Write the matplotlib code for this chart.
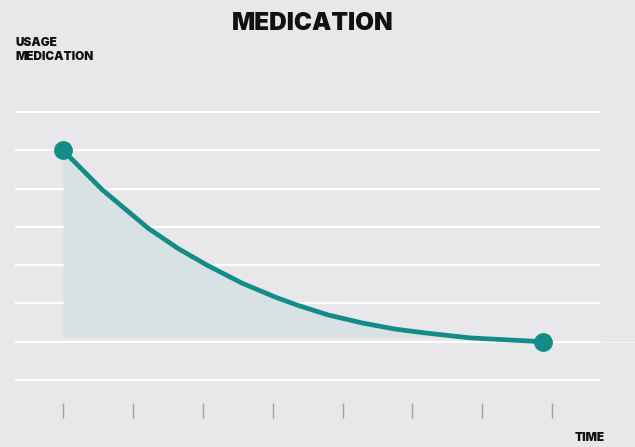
import numpy as np
import matplotlib
matplotlib.use("Agg")
import matplotlib.pyplot as plt

# values (time step, usage level)
time_pts = [0.0, 0.56, 1.22, 1.65, 2.06, 2.56, 3.03, 3.36, 3.79, 4.28, 4.75, 5.18, 5.82, 6.54, 6.87]
usage_pts = [6.0, 4.97, 3.96, 3.43, 3.00, 2.53, 2.17, 1.95, 1.70, 1.49, 1.33, 1.23, 1.10, 1.03, 1.0]
grid_levels = [0, 1, 2, 3, 4, 5, 6, 7]
time_ticks = [0, 1, 2, 3, 4, 5, 6, 7]
fill_base = 1.12

BG = "#e8e8ea"
TEAL = "#138c88"
FILL = "#d8e1e3"
INK = "#111111"

W, H = 635, 447
fig = plt.figure(figsize=(W / 100, H / 100), dpi=100, facecolor=BG)
ax = fig.add_axes([0, 0, 1, 1], facecolor=BG)
ax.set_xlim(-0.901, 8.183)
ax.set_ylim(-1.749, 9.922)
ax.axis("off")

# grid lines
ax.hlines(grid_levels, -0.687, 7.68, color="white", lw=1.5, zorder=1)
ax.hlines(1, 7.68, 8.2, color="white", lw=1.0, alpha=0.6, zorder=1)

# shaded area under the curve
ax.fill_between(time_pts, usage_pts, fill_base, color=FILL, lw=0, zorder=2)

# curve + end points
ax.plot(time_pts, usage_pts, color=TEAL, lw=3.4, solid_capstyle="round",
        solid_joinstyle="round", zorder=3)
ax.plot([time_pts[0], time_pts[-1]], [usage_pts[0], usage_pts[-1]], "o",
        color=TEAL, ms=12.5, zorder=4)

# time ticks
ax.vlines(time_ticks, -0.99, -0.60, color="#a0a0a0", lw=1.0, zorder=1)

# texts
fig.text(312.5 / W, 1 - 23.5 / H, "MEDICATION", ha="center", va="center",
         fontsize=17.5, fontweight="black", family="Inter", color=INK)
fig.text(15 / W, 1 - 37 / H, "USAGE\nMEDICATION", ha="left", va="top",
         fontsize=8.5, fontweight="black", family="Inter", color=INK,
         linespacing=1.2)
fig.text(590 / W, 1 - 438 / H, "TIME", ha="center", va="center",
         fontsize=8.5, fontweight="black", family="Inter", color=INK)

fig.savefig("out.png", dpi=100, facecolor=BG)
